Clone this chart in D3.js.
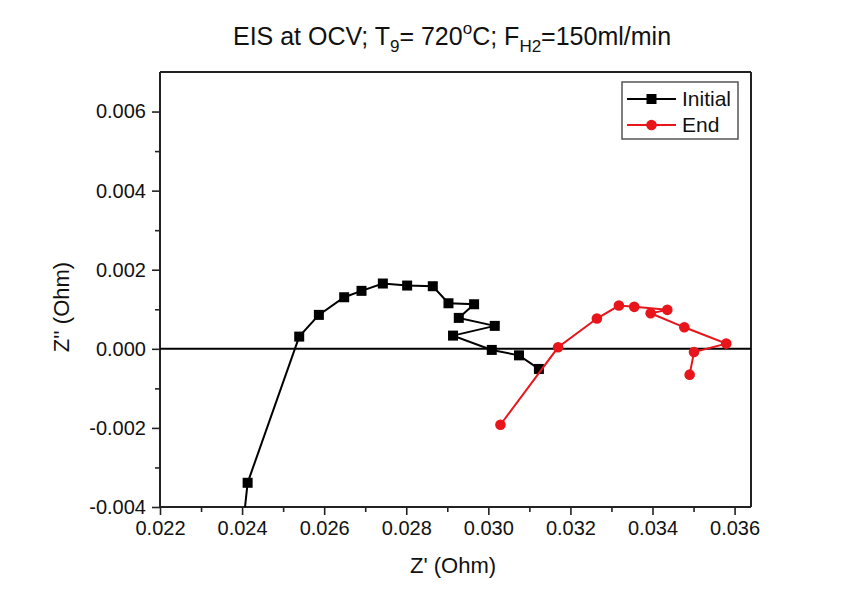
<!DOCTYPE html>
<html>
<head>
<meta charset="utf-8">
<script src="https://cdn.jsdelivr.net/npm/d3@7"></script>
<style>
  body { margin: 0; background: #fff; }
  svg { font-family: "Liberation Sans", Arial, sans-serif; }
</style>
</head>
<body>
<svg id="chart" width="857" height="592"></svg>
<script>
// Z' (Ohm), Z'' (Ohm)
var initialZre = [0.02402, 0.024135, 0.025392, 0.025871, 0.026488, 0.02691, 0.02743, 0.028022, 0.028647,
                  0.029029, 0.029653, 0.02928, 0.030157, 0.02914, 0.030084, 0.030747, 0.031232];
var initialZim = [-0.0045, -0.003388, 0.000309, 0.000858, 0.001304, 0.001466, 0.001651, 0.0016, 0.001583,
                  0.001152, 0.001127, 0.000782, 0.00058, 0.000334, -0.000028, -0.000165, -0.000509];
var endZre = [0.030295, 0.0317, 0.032645, 0.033181, 0.033555, 0.034361, 0.033955, 0.034775, 0.035797, 0.035011, 0.034905];
var endZim = [-0.00192, 0.000038, 0.000765, 0.001094, 0.001061, 0.000985, 0.000899, 0.000544, 0.000132, -0.000079, -0.000653];

var xTicks = [0.022, 0.024, 0.026, 0.028, 0.030, 0.032, 0.034, 0.036];
var xMinor = [0.023, 0.025, 0.027, 0.029, 0.031, 0.033, 0.035];
var yTicks = [-0.004, -0.002, 0.000, 0.002, 0.004, 0.006];
var yMinor = [-0.003, -0.001, 0.001, 0.003, 0.005];

var svg = d3.select("#chart");
var margin = { top: 72, right: 106, bottom: 85, left: 160 };
var W = 857 - margin.left - margin.right;
var H = 592 - margin.top - margin.bottom;

var x = d3.scaleLinear().domain([0.022, 0.0364]).range([0, W]);
var y = d3.scaleLinear().domain([-0.004, 0.007]).range([H, 0]);

var g = svg.append("g").attr("transform", "translate(" + margin.left + "," + margin.top + ")");

g.append("clipPath").attr("id", "clip")
  .append("rect").attr("width", W).attr("height", H);

// axes (hyphen minus like the original)
var fmt = function (v) { return d3.format(".3f")(v).replace("\u2212", "-"); };
var xAxis = g.append("g").attr("transform", "translate(0," + H + ")")
  .call(d3.axisBottom(x).tickValues(xTicks).tickFormat(fmt).tickSize(8).tickPadding(6));
g.append("g").attr("transform", "translate(0," + H + ")")
  .call(d3.axisBottom(x).tickValues(xMinor).tickFormat("").tickSize(5))
  .select(".domain").remove();
var yAxis = g.append("g")
  .call(d3.axisLeft(y).tickValues(yTicks).tickFormat(fmt).tickSize(8).tickPadding(6));
g.append("g")
  .call(d3.axisLeft(y).tickValues(yMinor).tickFormat("").tickSize(5))
  .select(".domain").remove();

g.selectAll(".tick text").attr("font-size", 20).attr("fill", "#111")
  .attr("font-family", "'Liberation Sans', Arial, sans-serif");
g.selectAll(".tick line").attr("stroke", "#222").attr("stroke-width", 1.6);
g.selectAll(".domain").attr("stroke", "#222").attr("stroke-width", 2);
xAxis.select(".domain").attr("d", "M0,0H" + W);
yAxis.select(".domain").attr("d", "M0,0V" + H);

// top and right frame
g.append("line").attr("x1", 0).attr("x2", W).attr("y1", 0).attr("y2", 0)
  .attr("stroke", "#222").attr("stroke-width", 2);
g.append("line").attr("x1", W).attr("x2", W).attr("y1", 0).attr("y2", H)
  .attr("stroke", "#222").attr("stroke-width", 2);

// zero line
g.append("line").attr("x1", 0).attr("x2", W).attr("y1", y(0)).attr("y2", y(0))
  .attr("stroke", "#000").attr("stroke-width", 2);

var plot = g.append("g").attr("clip-path", "url(#clip)");
var line = d3.line().x(function (d) { return x(d[0]); }).y(function (d) { return y(d[1]); });

var initial = d3.zip(initialZre, initialZim);
var end = d3.zip(endZre, endZim);
var red = "#e8151b";

plot.append("path").datum(initial).attr("d", line)
  .attr("fill", "none").attr("stroke", "#000").attr("stroke-width", 2);
plot.selectAll(".sq").data(initial).enter().append("rect")
  .attr("x", function (d) { return x(d[0]) - 5; })
  .attr("y", function (d) { return y(d[1]) - 5; })
  .attr("width", 10).attr("height", 10).attr("fill", "#000");

plot.append("path").datum(end).attr("d", line)
  .attr("fill", "none").attr("stroke", red).attr("stroke-width", 2);
plot.selectAll(".ci").data(end).enter().append("circle")
  .attr("cx", function (d) { return x(d[0]); })
  .attr("cy", function (d) { return y(d[1]); })
  .attr("r", 5.3).attr("fill", red);

// legend
var lg = svg.append("g").attr("transform", "translate(622,82)");
lg.append("rect").attr("width", 116).attr("height", 57)
  .attr("fill", "#fff").attr("stroke", "#555").attr("stroke-width", 1.5);
var items = [["Initial", "#000", "sq"], ["End", red, "ci"]];
items.forEach(function (it, i) {
  var yy = 17 + i * 26;
  lg.append("line").attr("x1", 5).attr("x2", 54).attr("y1", yy).attr("y2", yy)
    .attr("stroke", it[1]).attr("stroke-width", 2);
  if (it[2] == "sq") {
    lg.append("rect").attr("x", 24.5).attr("y", yy - 5).attr("width", 10).attr("height", 10).attr("fill", it[1]);
  } else {
    lg.append("circle").attr("cx", 29.5).attr("cy", yy).attr("r", 5.3).attr("fill", it[1]);
  }
  lg.append("text").attr("x", 60).attr("y", yy + 7).attr("font-size", 21).attr("fill", "#111").text(it[0]);
});

// axis titles
svg.append("text").attr("x", 453).attr("y", 573)
  .attr("text-anchor", "middle").attr("font-size", 22).attr("fill", "#111").text("Z' (Ohm)");
svg.append("text").attr("transform", "translate(69,307) rotate(-90)")
  .attr("text-anchor", "middle").attr("font-size", 22).attr("fill", "#111").text("Z'' (Ohm)");

// title
var t = svg.append("text").attr("x", 452).attr("y", 45)
  .attr("text-anchor", "middle").attr("font-size", 25).attr("fill", "#111");
t.append("tspan").text("EIS at OCV; T");
t.append("tspan").attr("font-size", 17).attr("dy", 7).text("9");
t.append("tspan").attr("dy", -7).text("= 720");
t.append("tspan").attr("font-size", 17).attr("dy", -11).text("o");
t.append("tspan").attr("dy", 11).text("C; F");
t.append("tspan").attr("font-size", 17).attr("dy", 7).text("H2");
t.append("tspan").attr("dy", -7).text("=150ml/min");
</script>
</body>
</html>
